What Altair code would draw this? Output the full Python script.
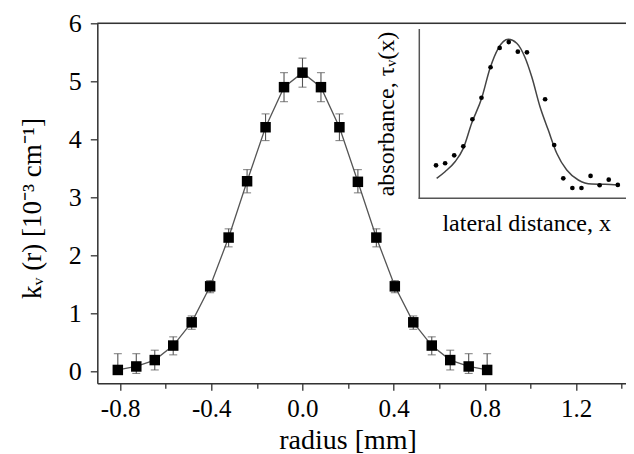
import altair as alt
import pandas as pd

# main profile k_v(r)
radius = [-0.81, -0.729, -0.648, -0.567, -0.486, -0.405, -0.324, -0.243, -0.162, -0.081, 0.0,
          0.081, 0.162, 0.243, 0.324, 0.405, 0.486, 0.567, 0.648, 0.729, 0.81]
kval = [0.03, 0.09, 0.20, 0.45, 0.85, 1.47, 2.31, 3.28, 4.21, 4.90, 5.15,
        4.90, 4.21, 3.27, 2.31, 1.47, 0.85, 0.45, 0.20, 0.09, 0.03]
klo = [0.03, -0.03, 0.03, 0.29, 0.73, 1.36, 2.15, 3.08, 3.98, 4.65, 4.90,
       4.65, 3.98, 3.08, 2.15, 1.36, 0.73, 0.29, 0.03, -0.03, 0.03]
khi = [0.31, 0.31, 0.37, 0.60, 0.96, 1.57, 2.46, 3.48, 4.44, 5.15, 5.40,
       5.15, 4.44, 3.48, 2.46, 1.57, 0.96, 0.60, 0.37, 0.31, 0.31]

# inset: measured absorbance dots and fitted curve
dot_x = [1.84, 2.84, 3.84, 4.84, 5.84, 6.84, 7.84, 8.84, 9.84, 10.84, 11.84,
         13.84, 14.84, 15.84, 16.84, 17.84, 18.84, 19.84, 20.84, 21.84]
dot_y = [0.195, 0.207, 0.254, 0.307, 0.467, 0.594, 0.774, 0.888, 0.923, 0.866, 0.862,
         0.585, 0.315, 0.118, 0.061, 0.061, 0.132, 0.077, 0.110, 0.079]
fit_x = [1.91, 2.83, 3.93, 4.84, 5.76, 6.86, 7.78, 8.69, 9.79, 10.72, 11.63, 12.37,
         13.28, 14.19, 15.12, 16.22, 17.49, 18.97, 20.43, 21.89]
fit_y = [0.118, 0.157, 0.216, 0.295, 0.443, 0.591, 0.768, 0.886, 0.939, 0.916, 0.832, 0.718,
         0.541, 0.403, 0.266, 0.167, 0.108, 0.084, 0.083, 0.079]

x_all = [-0.8, -0.6, -0.4, -0.2, 0.0, 0.2, 0.4, 0.6, 0.8, 1.0, 1.2, 1.4]
y_all = [0, 0.5, 1, 1.5, 2, 2.5, 3, 3.5, 4, 4.5, 5, 5.5, 6]

Y_TITLE = "kᵥ (r) [10⁻³ cm⁻¹]"
FONT = "Liberation Serif"
AX = "#333333"
TXT = "#000000"

main_df = pd.DataFrame({"r": radius, "k": kval, "lo": klo, "hi": khi})
dots_df = pd.DataFrame({"x": dot_x, "y": dot_y})
fit_df = pd.DataFrame({"x": fit_x, "y": fit_y})

W, H = 528.7, 360
xscale = alt.Scale(domain=[-0.9, 1.419], nice=False, zero=False)
yscale = alt.Scale(domain=[-0.2, 6], nice=False, zero=False)

xaxis = alt.Axis(
    values=x_all, title="radius [mm]",
    labelExpr="abs(round(datum.value*10)) % 4 == 0 ? (datum.value < 0 ? '-' + format(-datum.value, '.1f') : format(datum.value, '.1f')) : ''",
    tickSize={"condition": {"test": "abs(round(datum.value*10)) % 4 == 0", "value": 7}, "value": 5},
    labelFont=FONT, labelFontSize=25, labelColor=TXT, labelPadding=6,
    titleFont=FONT, titleFontSize=28, titleFontWeight="normal", titleColor=TXT,
    titleX=250.3, titleY=64.7, titleBaseline="alphabetic", titleAlign="center",
    domainColor=AX, domainWidth=1.5, tickColor=AX, tickWidth=1.3, grid=False,
    labelOverlap=False, labelFlush=False,
)
yaxis = alt.Axis(
    values=y_all, title=Y_TITLE,
    labelExpr="datum.value % 1 == 0 ? format(datum.value, 'd') : ''",
    tickSize={"condition": {"test": "datum.value % 1 == 0", "value": 7}, "value": 5},
    labelFont=FONT, labelFontSize=26, labelColor=TXT, labelPadding=9,
    titleFont=FONT, titleFontSize=27, titleFontWeight="normal", titleColor=TXT,
    titleX=-57.3, titleY=184.7, titleBaseline="alphabetic", titleAlign="center", titleAngle=270,
    domainColor=AX, domainWidth=1.5, tickColor=AX, tickWidth=1.3, grid=False,
    labelOverlap=False, labelFlush=False,
)

base = alt.Chart(main_df)
line = base.mark_line(color="#555555", strokeWidth=1.3).encode(
    x=alt.X("r:Q", scale=xscale, axis=xaxis),
    y=alt.Y("k:Q", scale=yscale, axis=yaxis),
)
err = base.mark_errorbar(color="#555555", thickness=1.1, ticks={"size": 8, "thickness": 1.1}).encode(
    x=alt.X("r:Q", title="radius [mm]"),
    y=alt.Y("lo:Q", title=Y_TITLE),
    y2="hi:Q",
)
pts = base.mark_square(size=110, color="#000000", opacity=1, filled=True).encode(
    x="r:Q", y="k:Q",
)
top = alt.Chart(pd.DataFrame({"v": [6]})).mark_rule(color=AX, strokeWidth=1.5).encode(
    y=alt.Y("v:Q", title=Y_TITLE),
)
main = alt.layer(line, err, pts, top)

ixs = alt.Scale(domain=[0, 22.74], range=[322, W], nice=False, zero=False)
iys = alt.Scale(domain=[0, 1], range=[175, 5.7], nice=False, zero=False)

curve = alt.Chart(fit_df).mark_line(color="#444444", strokeWidth=1.5, interpolate="monotone").encode(
    x=alt.X("x:Q", scale=ixs, axis=None),
    y=alt.Y("y:Q", scale=iys, axis=None),
)
dots = alt.Chart(dots_df).mark_circle(size=22, color="#000000", opacity=1).encode(
    x=alt.X("x:Q", scale=ixs, axis=None),
    y=alt.Y("y:Q", scale=iys, axis=None),
)
frame_df = pd.DataFrame({"a": [0]})
fl = alt.Chart(frame_df).mark_rule(color="#555555", strokeWidth=1.5).encode(
    x=alt.value(322), y=alt.value(5.7), y2=alt.value(175.5))
fb = alt.Chart(frame_df).mark_rule(color="#555555", strokeWidth=1.5).encode(
    x=alt.value(321.3), x2=alt.value(W), y=alt.value(175))
lab_x = alt.Chart(frame_df).mark_text(font=FONT, fontSize=24, color=TXT, baseline="alphabetic",
                                       align="center").encode(
    x=alt.value(429.4), y=alt.value(207.7), text=alt.value("lateral distance, x"))
lab_y = alt.Chart(frame_df).mark_text(font=FONT, fontSize=24, color=TXT, baseline="alphabetic",
                                       align="center", angle=270).encode(
    x=alt.value(296.2), y=alt.value(90.7), text=alt.value("absorbance, τᵥ(x)"))
inset = alt.layer(curve, dots, fl, fb, lab_x, lab_y)

chart = alt.layer(main, inset).resolve_scale(x="independent", y="independent").properties(
    width=W, height=H,
    autosize=alt.AutoSizeParams(type="none"),
    padding={"left": 89.3, "top": 15.3, "right": 0, "bottom": 70.7},
).configure_view(stroke=None).configure(background="white")

chart.save("out.html", embed_options={"renderer": "svg", "actions": False})
